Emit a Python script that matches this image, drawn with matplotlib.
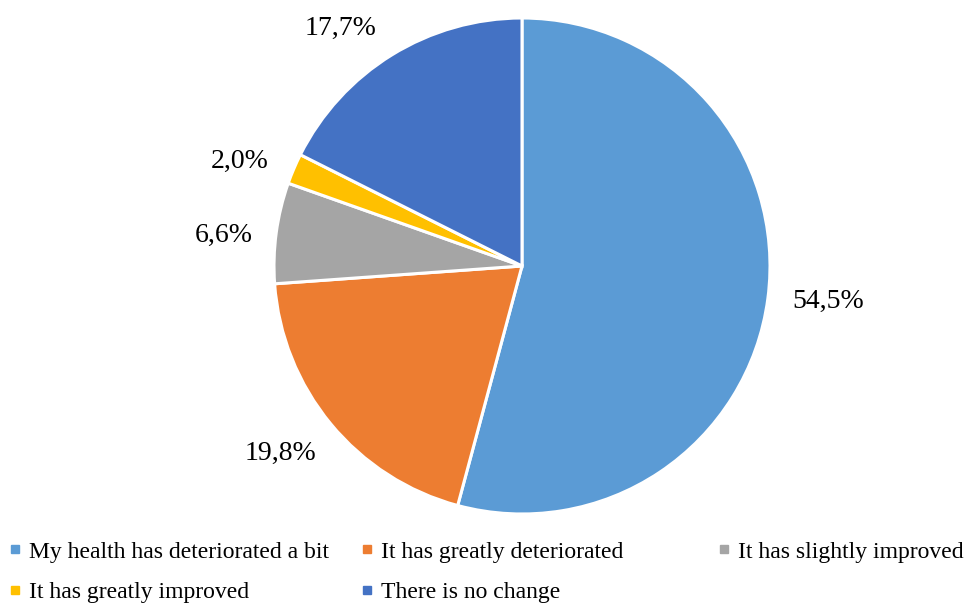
import numpy as np
import matplotlib
matplotlib.use("Agg")
import matplotlib.pyplot as plt
from matplotlib.lines import Line2D

categories = [
    "My health has deteriorated a bit",
    "It has greatly deteriorated",
    "It has slightly improved",
    "It has greatly improved",
    "There is no change",
]
shares = [54.5, 19.8, 6.6, 2.0, 17.7]
colors = ["#5B9BD5", "#ED7D31", "#A5A5A5", "#FFC000", "#4472C4"]
# label offsets (pixels) from the wedge's outer edge midpoint
label_offsets = [(60, -3), (-50, -30), (-52, -3), (-54, 7), (-51, 27)]

plt.rcParams["font.family"] = ["Liberation Serif", "DejaVu Serif"]

fig = plt.figure(figsize=(9.67, 6.04), dpi=100)
ax = fig.add_axes([274 / 967, 90 / 604, 496 / 967, 496 / 604])
wedges, _ = ax.pie(shares, colors=colors, startangle=90, counterclock=False,
                   radius=1.0, wedgeprops=dict(edgecolor="white", linewidth=2.2))
ax.set_xlim(-1, 1)
ax.set_ylim(-1, 1)
ax.set_aspect("equal")
ax.axis("off")

for w, val, off in zip(wedges, shares, label_offsets):
    mid = np.deg2rad((w.theta1 + w.theta2) / 2)
    ax.annotate(f"{val:.1f}%".replace(".", ","), xy=(np.cos(mid), np.sin(mid)),
                xytext=off, textcoords="offset pixels",
                ha="center", va="center", fontsize=20, annotation_clip=False)

handles = [Line2D([], [], marker="s", linestyle="none", markersize=5.5,
                  markerfacecolor=c, markeredgecolor=c) for c in colors]
col_x = [8 / 967, 360 / 967, 717 / 967]
for col in range(3):
    idx = [i for i in range(len(categories)) if i % 3 == col]
    fig.legend([handles[i] for i in idx], [categories[i] for i in idx],
               loc="upper left", bbox_to_anchor=(col_x[col], 1 - 541 / 604),
               frameon=False, fontsize=17, handlelength=0.6, handletextpad=0.3,
               labelspacing=0.82, borderaxespad=0, borderpad=0)

fig.savefig("out.png", dpi=100)
